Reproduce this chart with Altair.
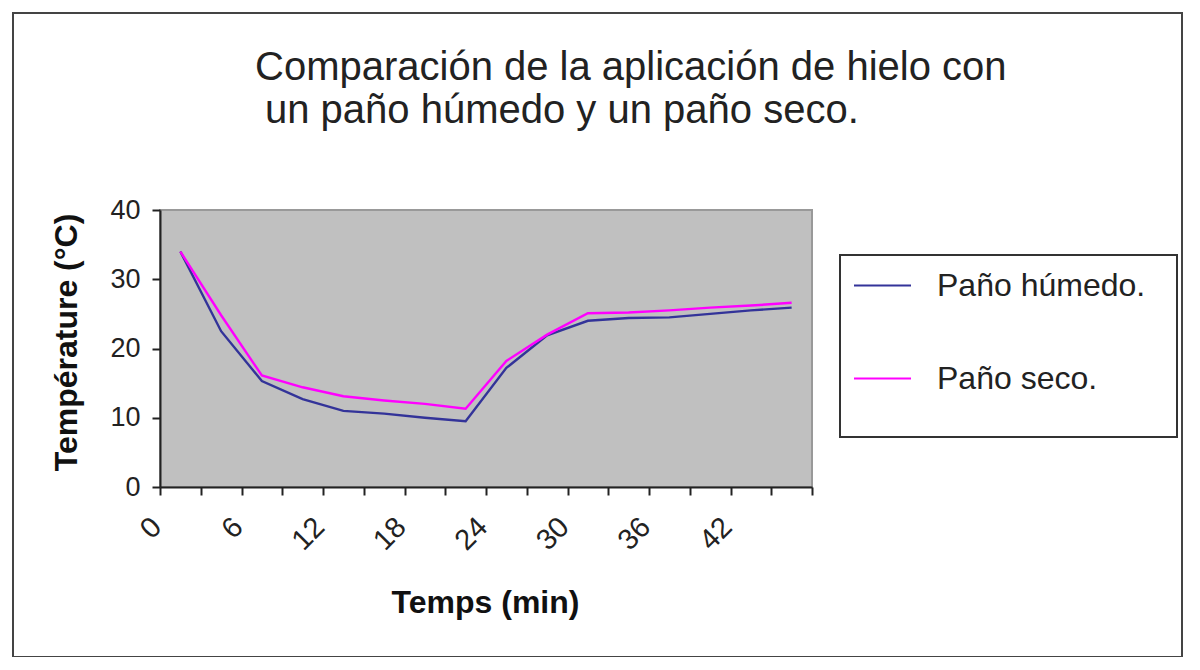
import altair as alt
import pandas as pd

times = [0, 3, 6, 9, 12, 15, 18, 21, 24, 27, 30, 33, 36, 39, 42, 45]
humedo = [34.0, 22.5, 15.3, 12.7, 11.0, 10.6, 10.0, 9.5, 17.2, 21.9, 24.0, 24.4, 24.5, 25.0, 25.5, 25.9]
seco = [34.0, 24.8, 16.1, 14.4, 13.1, 12.5, 12.0, 11.3, 18.2, 22.0, 25.1, 25.2, 25.5, 25.9, 26.2, 26.6]
series_names = ["Paño húmedo.", "Paño seco."]
series_colors = ["#333399", "#ff00ff"]
y_ticks = [0, 10, 20, 30, 40]
title_line1 = "Comparación de la aplicación de hielo con"
title_line2 = "un paño húmedo y un paño seco."

rows = []
for t, h, s in zip(times, humedo, seco):
    rows.append({"time": t, "value": h, "series": series_names[0]})
    rows.append({"time": t, "value": s, "series": series_names[1]})
df = pd.DataFrame(rows)

FONT = "Liberation Sans"

lines = alt.Chart(df).mark_line(strokeWidth=2.4).encode(
    x=alt.X(
        "time:O",
        sort=times,
        scale=alt.Scale(type="band", paddingInner=0, paddingOuter=0),
        axis=alt.Axis(
            title="Temps (min)",
            labelExpr="datum.value % 6 == 0 ? datum.label : ''",
            labelAngle=-45,
            labelAlign="right",
            labelBaseline="middle",
            labelFontSize=29,
            labelPadding=27,
            labelOffset=-24,
            tickBand="extent",
            tickSize=8,
            titleX=325,
            titleY=115,
            titleBaseline="middle",
            zindex=1,
        ),
    ),
    y=alt.Y(
        "value:Q",
        scale=alt.Scale(domain=[0, 40]),
        axis=alt.Axis(
            title="Température (°C)",
            values=y_ticks,
            tickSize=8,
            labelPadding=12,
            grid=False,
            titleX=-94,
            titleY=132,
            titleAngle=-90,
            titleBaseline="middle",
            zindex=1,
        ),
    ),
    color=alt.Color(
        "series:N",
        scale=alt.Scale(domain=series_names, range=series_colors),
        legend=alt.Legend(
            title=None,
            orient="none",
            legendX=693,
            legendY=46,
            symbolType="stroke",
            symbolSize=3249,
            symbolStrokeWidth=2,
            labelOffset=25,
            rowPadding=47,
            labelFontSize=32,
            labelFont=FONT,
            labelColor="#222222",
            labelLimit=400,
            padding=0,
        ),
    ),
)

one = pd.DataFrame({"k": [0]})
outer = alt.Chart(one).mark_rect(fill="transparent", stroke="#444444", strokeWidth=2).encode(
    x=alt.value(-147), x2=alt.value(1022), y=alt.value(-197), y2=alt.value(447)
)
legend_box = alt.Chart(one).mark_rect(fill="white", stroke="#333333", strokeWidth=2).encode(
    x=alt.value(680), x2=alt.value(1017), y=alt.value(45), y2=alt.value(227)
)
title1 = alt.Chart(one).mark_text(
    text=title_line1, font=FONT, fontSize=40, color="#222222", align="left", baseline="alphabetic"
).encode(x=alt.value(95), y=alt.value(-130))
title2 = alt.Chart(one).mark_text(
    text=title_line2, font=FONT, fontSize=40, color="#222222", align="left", baseline="alphabetic"
).encode(x=alt.value(105), y=alt.value(-87))

chart = alt.layer(outer, legend_box, title1, title2, lines).properties(
    width=652,
    height=277,
    background="white",
    autosize=alt.AutoSizeParams(type="none"),
    padding={"left": 152, "top": 202, "right": 376, "bottom": 170},
).configure_view(
    fill="#c0c0c0", stroke="#999999", strokeWidth=2
).configure_axis(
    labelFont=FONT,
    labelFontSize=27,
    labelColor="#222222",
    titleFont=FONT,
    titleFontSize=32,
    titleFontWeight="bold",
    titleColor="#111111",
    domainColor="#222222",
    domainWidth=2,
    tickColor="#222222",
    tickWidth=2,
)

chart.save("out.html", embed_options={"renderer": "svg", "actions": False})
